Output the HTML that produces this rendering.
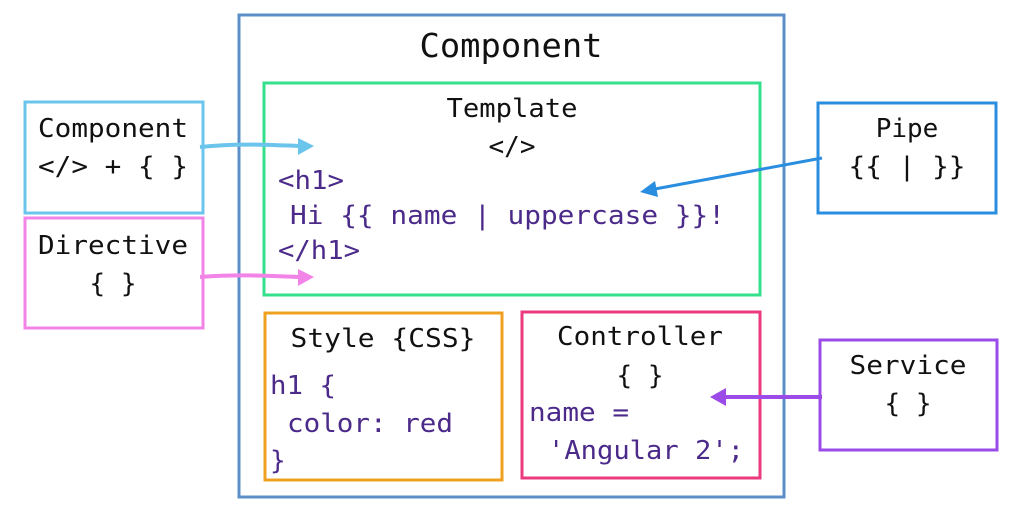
<!DOCTYPE html>
<html><head><meta charset="utf-8"><style>
html,body{margin:0;padding:0;background:#fff;}
svg{display:block}
text{font-family:"DejaVu Sans Mono","Liberation Mono",monospace;}
</style></head><body>
<svg width="1024" height="507" viewBox="0 0 1024 507" xmlns="http://www.w3.org/2000/svg">
<defs>
<marker id="a1" markerWidth="8" markerHeight="8" refX="6" refY="4" orient="auto" markerUnits="userSpaceOnUse"><path d="M0,0 L14,4 L0,8 z" fill="#6ac4ec"/></marker>
</defs>
<g fill="none" stroke-width="3">
<rect x="239" y="15" width="545" height="482" stroke="#5b8fc9"/>
<rect x="264" y="83" width="496" height="212" stroke="#35e08c"/>
<rect x="265" y="313" width="237" height="167" stroke="#f0a020"/>
<rect x="522" y="312" width="238" height="166" stroke="#ec3a7e"/>
<rect x="25" y="102" width="178" height="111" stroke="#6ac4ec"/>
<rect x="25" y="218" width="178" height="110" stroke="#f284e8"/>
<rect x="818" y="103" width="178" height="110" stroke="#2a8ee0"/>
<rect x="820" y="340" width="177" height="110" stroke="#9a4be8"/>
<path d="M200,147 C240,143 270,145 300,146" stroke="#6ac4ec" stroke-width="4"/>
<path d="M200,277 C240,274 270,276 300,277" stroke="#f284e8" stroke-width="4"/>
<path d="M822,158 L655,189" stroke="#2a8ee0" stroke-width="3"/>
<path d="M822,397 L725,397" stroke="#9a4be8" stroke-width="4"/>
</g>
<polygon points="314,146 298,138 298,155" fill="#6ac4ec"/>
<polygon points="314,277 298,269 298,286" fill="#f284e8"/>
<polygon points="640,192 655,181 658,197" fill="#2a8ee0"/>
<polygon points="710,397 726,388 726,406" fill="#9a4be8"/>
<g fill="#111">
<text x="511" y="57" font-size="33" text-anchor="middle" textLength="183" lengthAdjust="spacingAndGlyphs">Component</text>
<text x="512" y="117" font-size="26" text-anchor="middle" textLength="131" lengthAdjust="spacingAndGlyphs">Template</text>
<text x="512" y="155" font-size="26" text-anchor="middle">&lt;/&gt;</text>
<text x="383" y="347" font-size="26" text-anchor="middle" textLength="185" lengthAdjust="spacingAndGlyphs">Style {CSS}</text>
<text x="640" y="345" font-size="26" text-anchor="middle" textLength="166" lengthAdjust="spacingAndGlyphs">Controller</text>
<text x="640" y="384" font-size="26" text-anchor="middle">{ }</text>
<text x="38" y="137" font-size="26" textLength="150" lengthAdjust="spacingAndGlyphs">Component</text>
<text x="38" y="175" font-size="26" textLength="150" lengthAdjust="spacingAndGlyphs">&lt;/&gt; + { }</text>
<text x="38" y="254" font-size="26" textLength="150" lengthAdjust="spacingAndGlyphs">Directive</text>
<text x="113" y="292" font-size="26" text-anchor="middle">{ }</text>
<text x="907" y="137" font-size="26" text-anchor="middle">Pipe</text>
<text x="907" y="175" font-size="26" text-anchor="middle" textLength="117" lengthAdjust="spacingAndGlyphs">{{ | }}</text>
<text x="908" y="374" font-size="26" text-anchor="middle" textLength="117" lengthAdjust="spacingAndGlyphs">Service</text>
<text x="908" y="412" font-size="26" text-anchor="middle">{ }</text>
</g>
<g fill="#4b2a8a" font-size="26">
<text x="278" y="189" textLength="66" lengthAdjust="spacingAndGlyphs">&lt;h1&gt;</text>
<text x="290" y="224" textLength="435" lengthAdjust="spacingAndGlyphs">Hi {{ name | uppercase }}!</text>
<text x="278" y="259" textLength="82" lengthAdjust="spacingAndGlyphs">&lt;/h1&gt;</text>
<text x="270" y="394" textLength="66" lengthAdjust="spacingAndGlyphs">h1 {</text>
<text x="287" y="432" textLength="166" lengthAdjust="spacingAndGlyphs">color: red</text>
<text x="270" y="469">}</text>
<text x="529" y="421" textLength="100" lengthAdjust="spacingAndGlyphs">name =</text>
<text x="548" y="459" textLength="196" lengthAdjust="spacingAndGlyphs">'Angular 2';</text>
</g>
</svg>
</body></html>
